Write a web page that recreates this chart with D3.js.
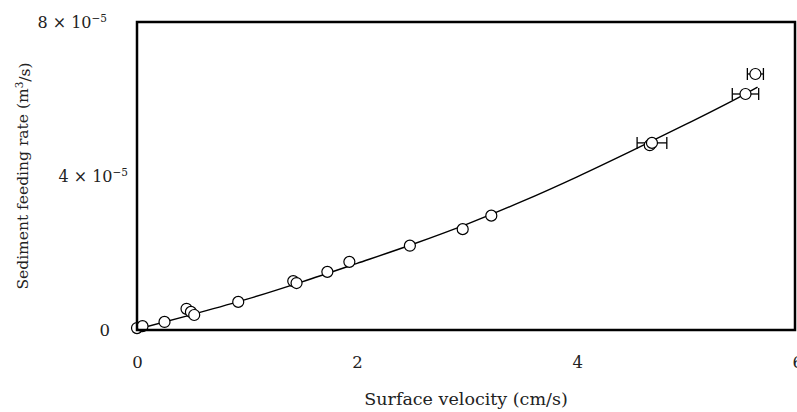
<!DOCTYPE html>
<html>
<head>
<meta charset="utf-8">
<script src="https://cdn.jsdelivr.net/npm/d3@7"></script>
<style>
  body { margin: 0; background: #fff; }
  text { font-family: "DejaVu Serif", serif; fill: #222; }
</style>
</head>
<body>
<svg id="chart" width="797" height="412"></svg>
<script>
// measured points (x in cm/s, y in 1e-5 m3/s)
var velocity = [0.00, 0.05, 0.25, 0.45, 0.49, 0.52, 0.92, 1.42, 1.45, 1.73, 1.93, 2.48, 2.96, 3.22, 4.66, 4.68, 5.53, 5.62];
var feedRate = [0.05, 0.10, 0.21, 0.55, 0.47, 0.39, 0.73, 1.27, 1.22, 1.51, 1.77, 2.19, 2.62, 2.97, 4.80, 4.86, 6.13, 6.65];
var velocityErr = [0, 0, 0, 0, 0, 0, 0, 0, 0, 0, 0, 0, 0, 0, 0, 0.135, 0.12, 0.073];

// fitted curve
var fitX = [0.00, 0.50, 1.00, 1.50, 2.00, 2.50, 3.00, 3.50, 4.00, 4.50, 5.00, 5.50, 5.64];
var fitY = [0.02, 0.40, 0.80, 1.25, 1.73, 2.22, 2.75, 3.34, 3.98, 4.66, 5.36, 6.09, 6.31];

var xTicks = [0, 2, 4, 6];
var yTicks = [0, 4, 8];

(function () {
  'use strict';
  var svg = d3.select("#chart");
  var left = 137, right = 795, top = 22, bottom = 330;

  var x = d3.scaleLinear().domain([0, 6]).range([left, left + (right - left) * 6 / 5.98]);
  var y = d3.scaleLinear().domain([0, 8]).range([bottom, top]);

  // x axis labels
  var xAxis = svg.append("g")
    .attr("transform", "translate(0," + (bottom + 23) + ")")
    .call(d3.axisBottom(x).tickValues(xTicks).tickSize(0).tickFormat(d3.format("d")));
  xAxis.select(".domain").remove();
  xAxis.selectAll("text").style("font-size", "16.5px").attr("fill", "#222");

  // y axis labels
  var yAxis = svg.append("g")
    .attr("transform", "translate(" + (left - 24) + ",0)")
    .call(d3.axisLeft(y).tickValues(yTicks).tickSize(0).tickFormat(function () { return ""; }));
  yAxis.select(".domain").remove();
  var yShift = { 0: 0, 4: 18, 8: -3 };
  yAxis.selectAll(".tick text")
    .style("font-size", "16px")
    .attr("fill", "#222")
    .attr("dx", function (d) { return yShift[d]; })
    .each(function (d) {
      var t = d3.select(this);
      if (d === 0) { t.style("font-size", "16.5px").text("0"); return; }
      t.append("tspan").text(d + " × 10");
      t.append("tspan").text("−5").attr("dy", "-0.55em").style("font-size", "10.5px");
    });

  // fitted line
  var line = d3.line()
    .x(function (d) { return x(d[0]); })
    .y(function (d) { return y(d[1]); })
    .curve(d3.curveMonotoneX);
  svg.append("path")
    .datum(d3.zip(fitX, fitY))
    .attr("d", line)
    .attr("fill", "none")
    .attr("stroke", "#000")
    .attr("stroke-width", 1.4);

  // error bars
  var pts = velocity.map(function (v, i) { return { x: v, y: feedRate[i], e: velocityErr[i] }; });
  var eb = svg.append("g").selectAll("g")
    .data(pts.filter(function (d) { return d.e > 0; }))
    .enter().append("g")
    .attr("stroke", "#000")
    .attr("stroke-width", 1.3);
  eb.append("line")
    .attr("x1", function (d) { return x(d.x - d.e); })
    .attr("x2", function (d) { return x(d.x + d.e); })
    .attr("y1", function (d) { return y(d.y); })
    .attr("y2", function (d) { return y(d.y); });
  eb.selectAll("line.cap")
    .data(function (d) { return [[d.x - d.e, d.y], [d.x + d.e, d.y]]; })
    .enter().append("line")
    .attr("class", "cap")
    .attr("x1", function (d) { return x(d[0]); })
    .attr("x2", function (d) { return x(d[0]); })
    .attr("y1", function (d) { return y(d[1]) - 6; })
    .attr("y2", function (d) { return y(d[1]) + 6; });

  // markers
  svg.append("g").selectAll("circle")
    .data(pts)
    .enter().append("circle")
    .attr("cx", function (d) { return x(d.x); })
    .attr("cy", function (d) { return y(d.y); })
    .attr("r", 5.5)
    .attr("fill", "#fff")
    .attr("stroke", "#000")
    .attr("stroke-width", 1.2);

  // plot frame
  svg.append("rect")
    .attr("x", left).attr("y", top)
    .attr("width", right - left).attr("height", bottom - top)
    .attr("fill", "none")
    .attr("stroke", "#000")
    .attr("stroke-width", 2.5);

  // axis titles
  svg.append("text")
    .attr("x", 466).attr("y", 405)
    .attr("text-anchor", "middle")
    .style("font-size", "17.5px")
    .text("Surface velocity (cm/s)");

  var yt = svg.append("text")
    .attr("transform", "translate(28,176) rotate(-90)")
    .attr("text-anchor", "middle")
    .style("font-size", "15.5px");
  yt.append("tspan").text("Sediment feeding rate (m");
  yt.append("tspan").text("3").attr("dy", "-0.45em").style("font-size", "10.5px");
  yt.append("tspan").text("/s)").attr("dy", "0.45em");
})();
</script>
</body>
</html>
